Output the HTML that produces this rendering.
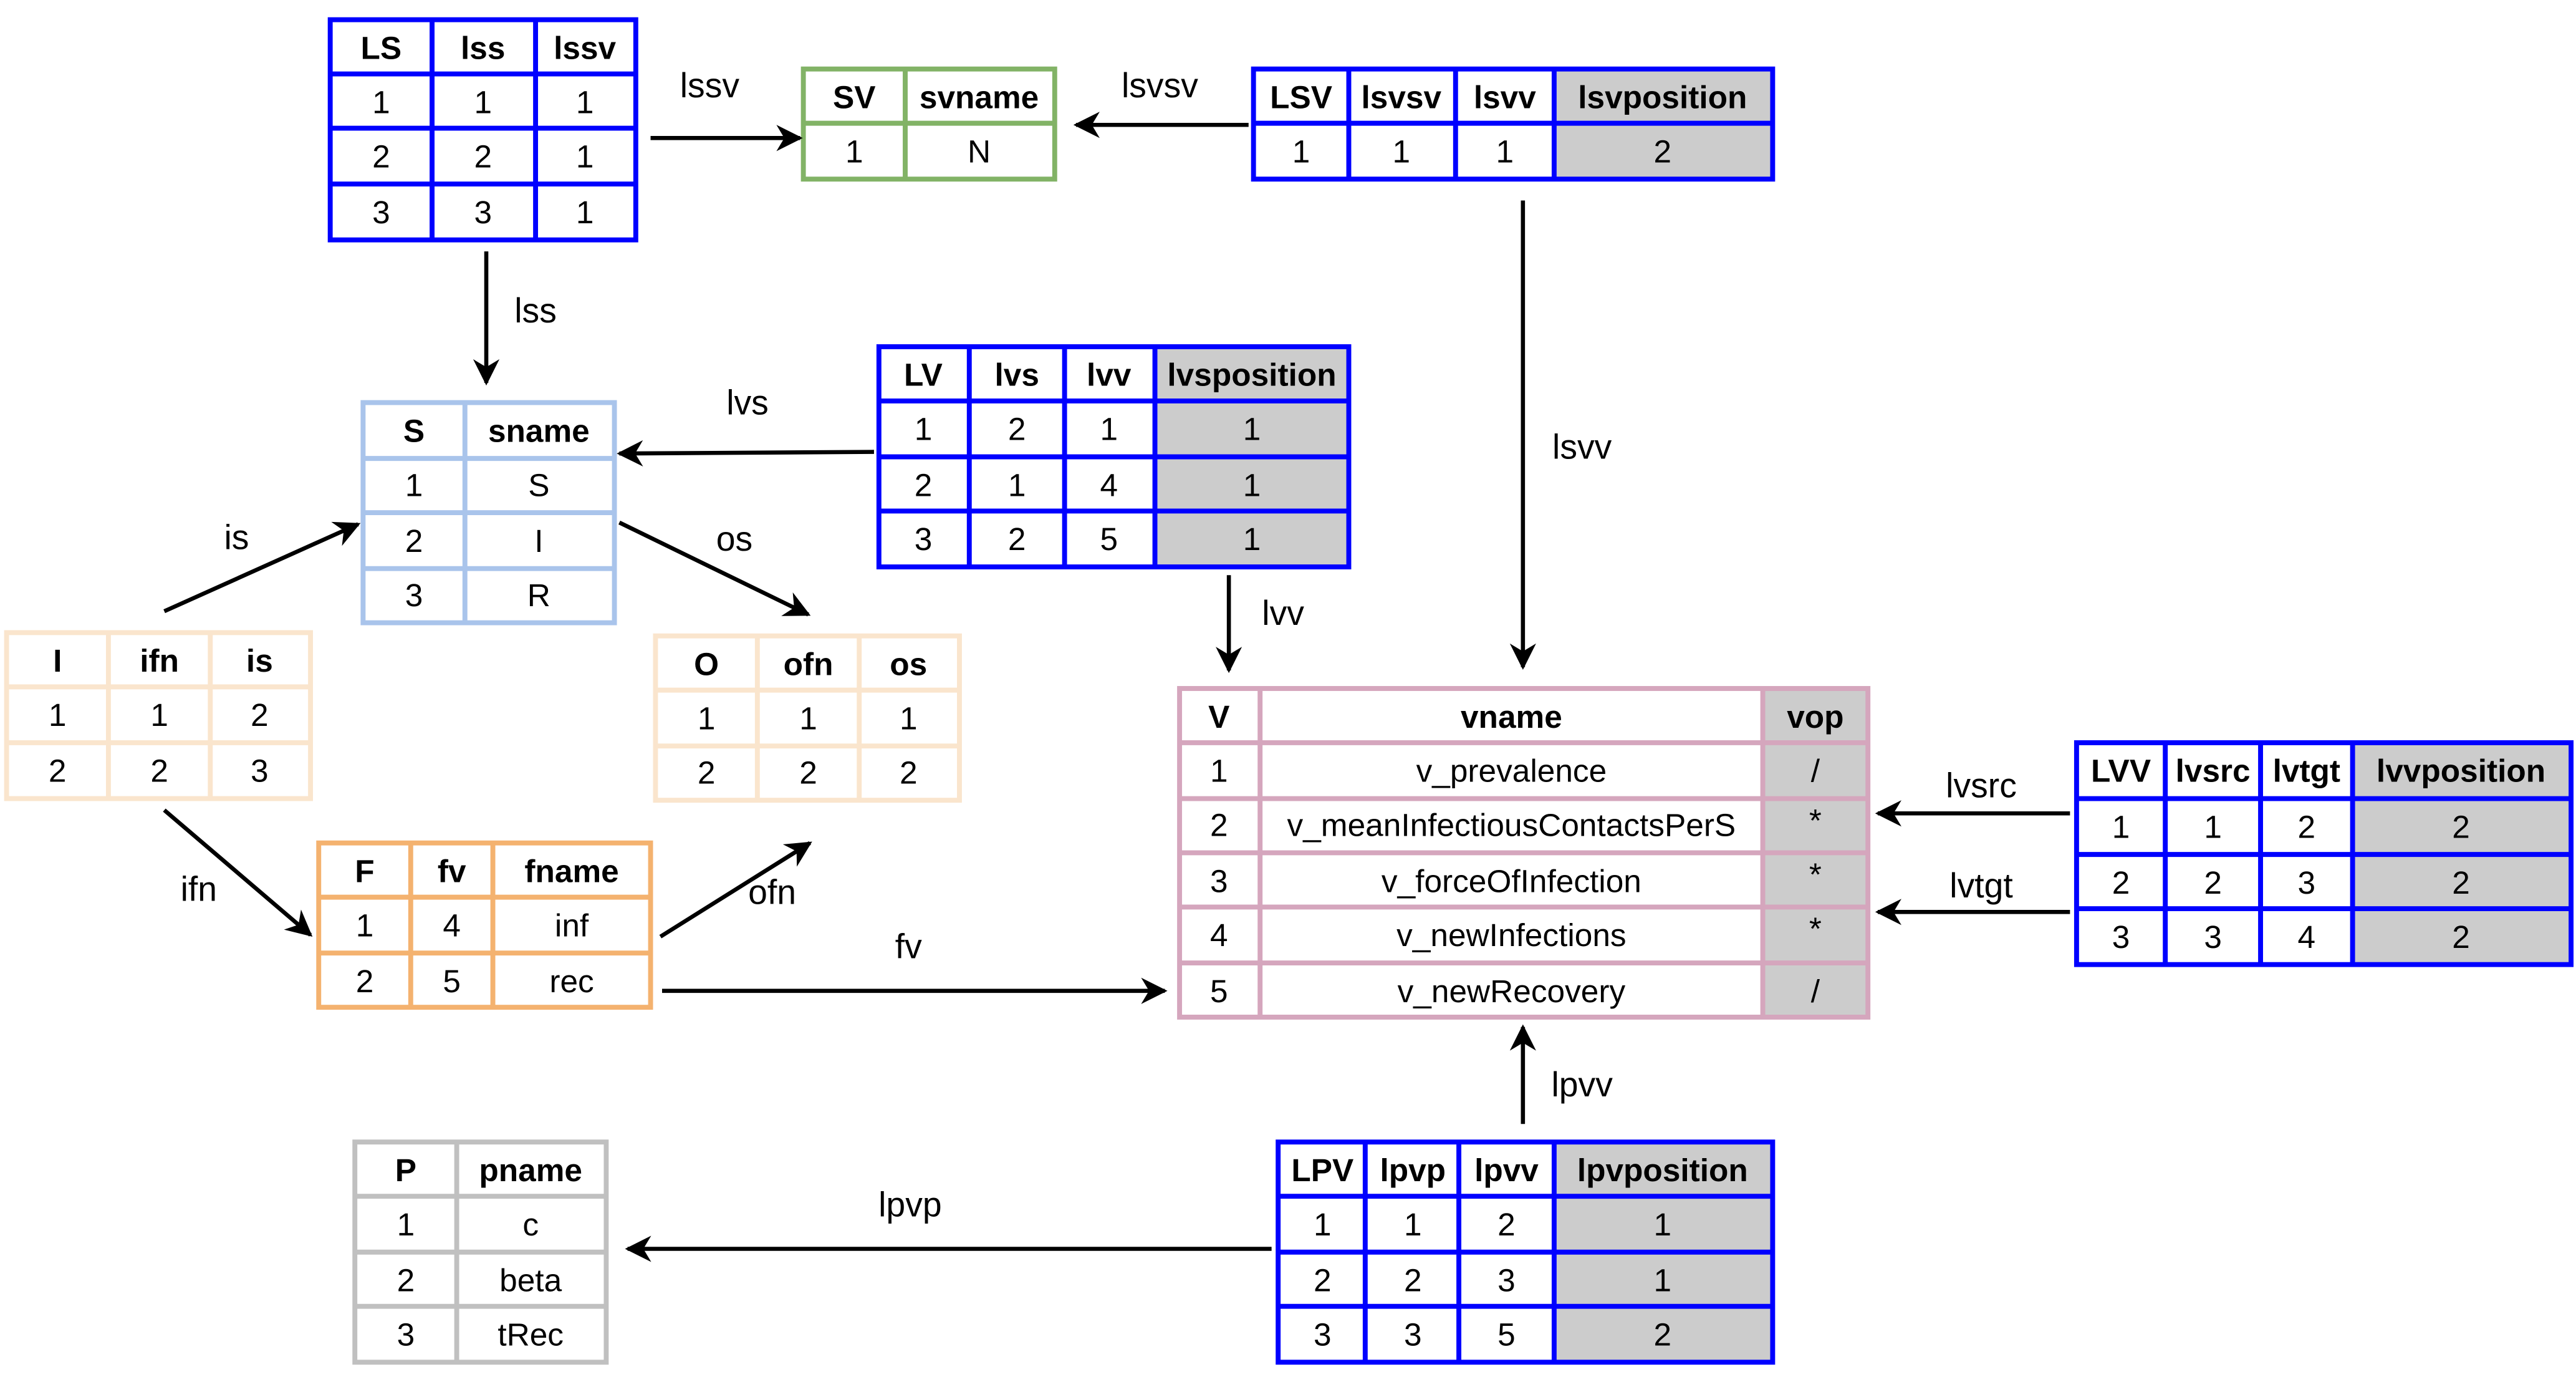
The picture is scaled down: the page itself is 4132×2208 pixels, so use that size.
<!DOCTYPE html>
<html><head><meta charset="utf-8"><style>
html,body{margin:0;padding:0;background:#fff;width:4132px;height:2208px;overflow:hidden}
svg{display:block}
text{font-family:"Liberation Sans",Arial,sans-serif;font-size:19.5px;fill:#000;text-anchor:middle;dominant-baseline:central}
.b{font-weight:bold}
.l{font-size:21px}
</style></head><body>
<svg width="4132" height="2208" viewBox="0 0 1568 838" preserveAspectRatio="none" xmlns="http://www.w3.org/2000/svg">
<defs>
<marker id="a" markerWidth="8" markerHeight="8" refX="7" refY="4" orient="auto" markerUnits="userSpaceOnUse" viewBox="0 0 8 8" >
</marker>
<marker id="ar" viewBox="0 0 10 10" refX="9" refY="5" markerWidth="16" markerHeight="16" markerUnits="userSpaceOnUse" orient="auto">
<path d="M0,0 L10,5 L0,10 L3,5 Z" fill="#000"/>
</marker>
</defs>

<!-- LS -->
<g fill="none" stroke="#0000ff" stroke-width="3">
<rect x="201" y="12" width="186" height="134" fill="#fff"/>
<path d="M263 12V146M326 12V146M201 45H387M201 78H387M201 112H387"/>
</g>
<text class="b" x="232" y="29">LS</text><text class="b" x="294" y="29">lss</text><text class="b" x="356" y="29">lssv</text>
<text x="232" y="62">1</text><text x="294" y="62">1</text><text x="356" y="62">1</text>
<text x="232" y="95">2</text><text x="294" y="95">2</text><text x="356" y="95">1</text>
<text x="232" y="129">3</text><text x="294" y="129">3</text><text x="356" y="129">1</text>

<!-- SV -->
<g fill="none" stroke="#82b366" stroke-width="3">
<rect x="489" y="42" width="153" height="67" fill="#fff"/>
<path d="M551 42V109M489 75H642"/>
</g>
<text class="b" x="520" y="59">SV</text><text class="b" x="596" y="59">svname</text>
<text x="520" y="92">1</text><text x="596" y="92">N</text>

<!-- LSV -->
<rect x="946" y="42" width="133" height="67" fill="#cccccc"/>
<g fill="none" stroke="#0000ff" stroke-width="3">
<rect x="763" y="42" width="316" height="67"/>
<path d="M821 42V109M886 42V109M946 42V109M763 75H1079"/>
</g>
<text class="b" x="792" y="59">LSV</text><text class="b" x="853" y="59">lsvsv</text><text class="b" x="916" y="59">lsvv</text><text class="b" x="1012" y="59">lsvposition</text>
<text x="792" y="92">1</text><text x="853" y="92">1</text><text x="916" y="92">1</text><text x="1012" y="92">2</text>

<!-- S -->
<g fill="none" stroke="#a9c4eb" stroke-width="3">
<rect x="221" y="245" width="153" height="134" fill="#fff"/>
<path d="M283 245V379M221 279H374M221 312H374M221 346H374"/>
</g>
<text class="b" x="252" y="262">S</text><text class="b" x="328" y="262">sname</text>
<text x="252" y="295">1</text><text x="328" y="295">S</text>
<text x="252" y="329">2</text><text x="328" y="329">I</text>
<text x="252" y="362">3</text><text x="328" y="362">R</text>

<!-- LV -->
<rect x="703" y="211" width="118" height="134" fill="#cccccc"/>
<g fill="none" stroke="#0000ff" stroke-width="3">
<rect x="535" y="211" width="286" height="134"/>
<path d="M590 211V345M648 211V345M703 211V345M535 244H821M535 278H821M535 311H821"/>
</g>
<text class="b" x="562" y="228">LV</text><text class="b" x="619" y="228">lvs</text><text class="b" x="675" y="228">lvv</text><text class="b" x="762" y="228">lvsposition</text>
<text x="562" y="261">1</text><text x="619" y="261">2</text><text x="675" y="261">1</text><text x="762" y="261">1</text>
<text x="562" y="295">2</text><text x="619" y="295">1</text><text x="675" y="295">4</text><text x="762" y="295">1</text>
<text x="562" y="328">3</text><text x="619" y="328">2</text><text x="675" y="328">5</text><text x="762" y="328">1</text>

<!-- I -->
<g fill="none" stroke="#fae5cd" stroke-width="3">
<rect x="4" y="385" width="185" height="101" fill="#fff"/>
<path d="M66 385V486M128 385V486M4 418H189M4 452H189"/>
</g>
<text class="b" x="35" y="402">I</text><text class="b" x="97" y="402">ifn</text><text class="b" x="158" y="402">is</text>
<text x="35" y="435">1</text><text x="97" y="435">1</text><text x="158" y="435">2</text>
<text x="35" y="469">2</text><text x="97" y="469">2</text><text x="158" y="469">3</text>

<!-- O -->
<g fill="none" stroke="#fae5cd" stroke-width="3">
<rect x="399" y="387" width="185" height="100" fill="#fff"/>
<path d="M461 387V487M523 387V487M399 420H584M399 454H584"/>
</g>
<text class="b" x="430" y="404">O</text><text class="b" x="492" y="404">ofn</text><text class="b" x="553" y="404">os</text>
<text x="430" y="437">1</text><text x="492" y="437">1</text><text x="553" y="437">1</text>
<text x="430" y="470">2</text><text x="492" y="470">2</text><text x="553" y="470">2</text>

<!-- F -->
<g fill="none" stroke="#f4b26f" stroke-width="3">
<rect x="194" y="513" width="202" height="100" fill="#fff"/>
<path d="M250 513V613M300 513V613M194 546H396M194 580H396"/>
</g>
<text class="b" x="222" y="530">F</text><text class="b" x="275" y="530">fv</text><text class="b" x="348" y="530">fname</text>
<text x="222" y="563">1</text><text x="275" y="563">4</text><text x="348" y="563">inf</text>
<text x="222" y="597">2</text><text x="275" y="597">5</text><text x="348" y="597">rec</text>

<!-- V -->
<rect x="1073" y="419" width="64" height="200" fill="#cccccc"/>
<g fill="none" stroke="#d5a6bd" stroke-width="3">
<rect x="718" y="419" width="419" height="200"/>
<path d="M767 419V619M1073 419V619M718 452H1137M718 486H1137M718 519H1137M718 552H1137M718 586H1137"/>
</g>
<text class="b" x="742" y="436">V</text><text class="b" x="920" y="436">vname</text><text class="b" x="1105" y="436">vop</text>
<text x="742" y="469">1</text><text x="920" y="469">v_prevalence</text><text x="1105" y="469">/</text>
<text x="742" y="502">2</text><text x="920" y="502">v_meanInfectiousContactsPerS</text><text x="1105" y="499">*</text>
<text x="742" y="536">3</text><text x="920" y="536">v_forceOfInfection</text><text x="1105" y="532">*</text>
<text x="742" y="569">4</text><text x="920" y="569">v_newInfections</text><text x="1105" y="565">*</text>
<text x="742" y="603">5</text><text x="920" y="603">v_newRecovery</text><text x="1105" y="603">/</text>

<!-- LVV -->
<rect x="1432" y="452" width="133" height="135" fill="#cccccc"/>
<g fill="none" stroke="#0000ff" stroke-width="3">
<rect x="1264" y="452" width="301" height="135"/>
<path d="M1318 452V587M1376 452V587M1432 452V587M1264 486H1565M1264 520H1565M1264 553H1565"/>
</g>
<text class="b" x="1291" y="469">LVV</text><text class="b" x="1347" y="469">lvsrc</text><text class="b" x="1404" y="469">lvtgt</text><text class="b" x="1498" y="469">lvvposition</text>
<text x="1291" y="503">1</text><text x="1347" y="503">1</text><text x="1404" y="503">2</text><text x="1498" y="503">2</text>
<text x="1291" y="537">2</text><text x="1347" y="537">2</text><text x="1404" y="537">3</text><text x="1498" y="537">2</text>
<text x="1291" y="570">3</text><text x="1347" y="570">3</text><text x="1404" y="570">4</text><text x="1498" y="570">2</text>

<!-- P -->
<g fill="none" stroke="#c0c0c0" stroke-width="3">
<rect x="216" y="695" width="153" height="134" fill="#fff"/>
<path d="M278 695V829M216 728H369M216 762H369M216 795H369"/>
</g>
<text class="b" x="247" y="712">P</text><text class="b" x="323" y="712">pname</text>
<text x="247" y="745">1</text><text x="323" y="745">c</text>
<text x="247" y="779">2</text><text x="323" y="779">beta</text>
<text x="247" y="812">3</text><text x="323" y="812">tRec</text>

<!-- LPV -->
<rect x="946" y="695" width="133" height="134" fill="#cccccc"/>
<g fill="none" stroke="#0000ff" stroke-width="3">
<rect x="778" y="695" width="301" height="134"/>
<path d="M831 695V829M888 695V829M946 695V829M778 728H1079M778 762H1079M778 795H1079"/>
</g>
<text class="b" x="805" y="712">LPV</text><text class="b" x="860" y="712">lpvp</text><text class="b" x="917" y="712">lpvv</text><text class="b" x="1012" y="712">lpvposition</text>
<text x="805" y="745">1</text><text x="860" y="745">1</text><text x="917" y="745">2</text><text x="1012" y="745">1</text>
<text x="805" y="779">2</text><text x="860" y="779">2</text><text x="917" y="779">3</text><text x="1012" y="779">1</text>
<text x="805" y="812">3</text><text x="860" y="812">3</text><text x="917" y="812">5</text><text x="1012" y="812">2</text>

<!-- arrows -->
<g stroke="#000" stroke-width="2.5" fill="none" marker-end="url(#ar)">
<path d="M396 84H487"/>
<path d="M760 76H655"/>
<path d="M296 153V233"/>
<path d="M532 275L377 276"/>
<path d="M927 122V406"/>
<path d="M748 350V408"/>
<path d="M100 372L218 319"/>
<path d="M377 318L492 374"/>
<path d="M100 493L189 569"/>
<path d="M402 570L493 513"/>
<path d="M403 603H709"/>
<path d="M1260 495H1143"/>
<path d="M1260 555H1143"/>
<path d="M927 684V625"/>
<path d="M774 760H382"/>
</g>

<!-- labels -->
<text class="l" x="432" y="52">lssv</text>
<text class="l" x="706" y="52">lsvsv</text>
<text class="l" x="326" y="189">lss</text>
<text class="l" x="455" y="245">lvs</text>
<text class="l" x="963" y="272">lsvv</text>
<text class="l" x="781" y="373">lvv</text>
<text class="l" x="144" y="327">is</text>
<text class="l" x="447" y="328">os</text>
<text class="l" x="121" y="541">ifn</text>
<text class="l" x="470" y="543">ofn</text>
<text class="l" x="553" y="576">fv</text>
<text class="l" x="1206" y="478">lvsrc</text>
<text class="l" x="1206" y="539">lvtgt</text>
<text class="l" x="963" y="660">lpvv</text>
<text class="l" x="554" y="733">lpvp</text>
</svg>
</body></html>
